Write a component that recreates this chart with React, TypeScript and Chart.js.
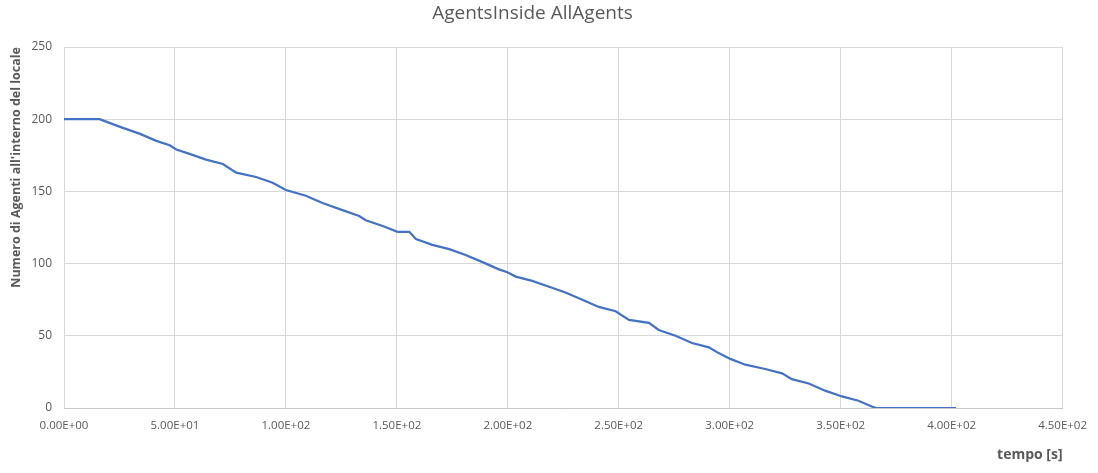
import { useEffect, useRef } from "react";
import { Chart, registerables } from "chart.js";

Chart.register(...registerables);

// Time [s] and number of agents inside
const times: number[] = [
  0, 16, 26.5, 34, 41.6, 47.6, 50.6, 56.6, 64, 71.6, 77.6, 86.6, 94, 100, 109,
  116.5, 125.5, 133, 136, 143.6, 150.3, 155.6, 158.6, 166, 173.6, 181, 188.6,
  196, 199.8, 203.6, 211, 218.6, 226, 233.6, 241, 248.6, 254.6, 263.6, 268,
  275.6, 283, 290.6, 295, 300.3, 307, 316, 323.6, 328, 335.6, 343, 350.6, 358,
  364, 366, 402,
];
const agentsInside: number[] = [
  200, 200, 194, 190, 185, 182, 179, 176, 172, 169, 163, 160, 156, 151, 147,
  142, 137, 133, 130, 126, 122, 122, 117, 113, 110, 106, 101, 96, 94, 91, 88,
  84, 80, 75, 70, 67, 61, 59, 54, 50, 45, 42, 38, 34, 30, 27, 24, 20, 17, 12,
  8, 5, 1, 0, 0,
];

const xTickValues: number[] = [0, 50, 100, 150, 200, 250, 300, 350, 400, 450];
const yTickValues: number[] = [0, 50, 100, 150, 200, 250];

const chartTitle = "AgentsInside AllAgents";
const xAxisTitle = "tempo [s]";
const yAxisTitle = "Numero di Agenti all'interno del locale";

function sci(v: number): string {
  if (v === 0) return "0.00E+00";
  const e = Math.floor(Math.log10(Math.abs(v)));
  const m = v / Math.pow(10, e);
  const sign = e < 0 ? "-" : "+";
  return m.toFixed(2) + "E" + sign + String(Math.abs(e)).padStart(2, "0");
}

const FONT = "'Open Sans', 'Liberation Sans', sans-serif";
const TEXT = "#595959";

export default function App() {
  const ref = useRef<HTMLCanvasElement | null>(null);

  useEffect(() => {
    if (!ref.current) return;
    const points = times.map((t, i) => ({ x: t, y: agentsInside[i] }));
    const chart = new Chart(ref.current, {
      type: "line",
      data: {
        datasets: [
          {
            label: chartTitle,
            data: points,
            borderColor: "#4472C4",
            backgroundColor: "#4472C4",
            borderWidth: 2.25,
            pointRadius: 0,
            tension: 0,
            fill: false,
          },
        ],
      },
      options: {
        responsive: false,
        animation: false,
        layout: { padding: { left: 0, right: 33, top: 0, bottom: 0 } },
        plugins: {
          legend: { display: false },
          tooltip: { enabled: false },
          title: {
            display: true,
            text: chartTitle,
            color: TEXT,
            font: { family: FONT, size: 19, weight: "normal" },
            padding: { top: 2, bottom: 22.2 },
          },
        },
        scales: {
          x: {
            type: "linear",
            min: 0,
            max: 450,
            afterBuildTicks: (scale: any) => {
              scale.ticks = xTickValues.map((v) => ({ value: v }));
            },
            afterFit: (scale: any) => {
              scale.height = 65;
            },
            ticks: {
              color: TEXT,
              font: { family: FONT, size: 11.5 },
              padding: 11,
              maxRotation: 0,
              autoSkip: false,
              callback: (v: any) => sci(Number(v)),
            },
            grid: { color: "#d9d9d9", lineWidth: 1, drawTicks: false },
            border: { display: true, color: "#c6c6c6", width: 1 },
            title: {
              display: true,
              text: xAxisTitle,
              align: "end",
              color: TEXT,
              font: { family: FONT, size: 14, weight: "bold" },
              padding: { top: 0, bottom: 9.6 },
            },
          },
          y: {
            type: "linear",
            min: 0,
            max: 250,
            afterBuildTicks: (scale: any) => {
              scale.ticks = yTickValues.map((v) => ({ value: v }));
            },
            afterFit: (scale: any) => {
              scale.width = 64;
            },
            ticks: {
              color: TEXT,
              font: { family: FONT, size: 12 },
              padding: 12,
            },
            grid: { color: "#d9d9d9", lineWidth: 1, drawTicks: false },
            border: { display: false },
            title: {
              display: true,
              text: yAxisTitle,
              align: "end",
              color: TEXT,
              font: { family: FONT, size: 12.5, weight: "bold" },
              padding: { top: 8.5, bottom: 0 },
            },
          },
        },
      },
    });
    return () => chart.destroy();
  }, []);

  return (
    <div style={{ position: "fixed", left: 0, top: 0, width: 1098, height: 473, background: "#fff" }}>
      <canvas ref={ref} width={1098} height={473} />
    </div>
  );
}
